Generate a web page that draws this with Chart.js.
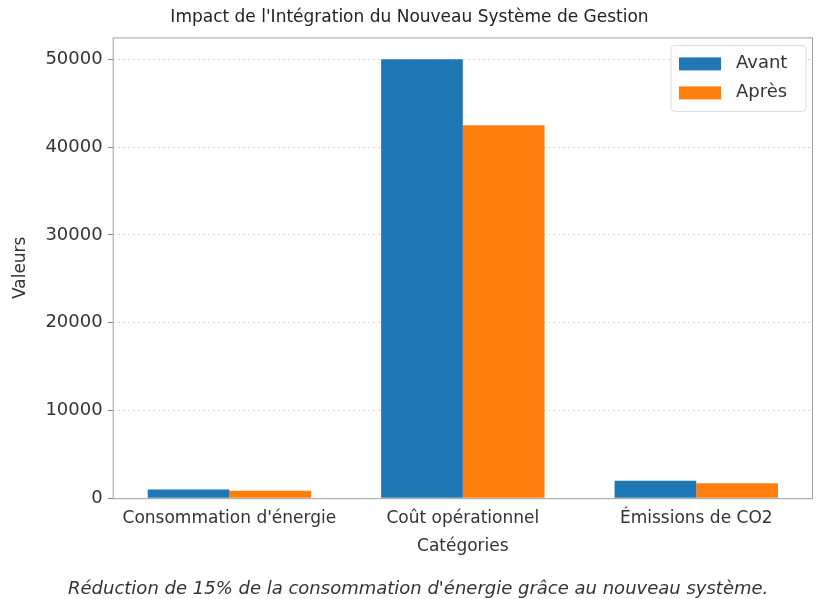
<!DOCTYPE html>
<html>
<head>
<meta charset="utf-8">
<script src="https://cdn.jsdelivr.net/npm/chart.js@4.4.1/dist/chart.umd.min.js"></script>
<style>
  html, body { margin: 0; padding: 0; background: #fff; }
  #wrap { width: 829px; height: 599px; position: relative; }
</style>
</head>
<body>
<div id="wrap"><canvas id="chart" width="829" height="599"></canvas></div>
<script>
const categories = ["Consommation d'énergie", "Coût opérationnel", "Émissions de CO2"];
const avant = [1000, 50000, 2000];
const apres = [850, 42500, 1700];
const yTicks = [0, 10000, 20000, 30000, 40000, 50000];
const caption = "Réduction de 15% de la consommation d'énergie grâce au nouveau système.";

const FONT = "'DejaVu Sans', 'Open Sans', sans-serif";
const BLUE = '#1f77b4';
const ORANGE = '#ff7f0e';

// box around the plot + legend inside top-right, like matplotlib
const framePlugin = {
    id: 'frame',
    afterDraw(chart) {
        const { ctx, chartArea: a } = chart;
        ctx.save();
        ctx.strokeStyle = '#a0a0a0';
        ctx.lineWidth = 1;
        ctx.strokeRect(a.left + 0.5, a.top + 0.5, a.right - a.left - 1, a.bottom - a.top);

        // legend
        const bx = a.right - 142, by = a.top + 8, bw = 135, bh = 66;
        ctx.fillStyle = 'rgba(255,255,255,0.85)';
        ctx.strokeStyle = '#dcdcdc';
        ctx.beginPath();
        ctx.roundRect(bx, by, bw, bh, 4);
        ctx.fill();
        ctx.stroke();
        ctx.font = '18px ' + FONT;
        ctx.textBaseline = 'middle';
        chart.data.datasets.forEach((ds, i) => {
            const y = by + 18 + i * 29;
            ctx.fillStyle = ds.backgroundColor;
            ctx.fillRect(bx + 8, y - 6, 42, 13);
            ctx.fillStyle = '#333';
            ctx.fillText(ds.label, bx + 65, y);
        });

        // caption under the chart
        ctx.font = 'italic 18px ' + FONT;
        ctx.fillStyle = '#333';
        ctx.textBaseline = 'alphabetic';
        ctx.fillText(caption, 68, 594);
        ctx.restore();
    }
};

new Chart(document.getElementById('chart'), {
    type: 'bar',
    data: {
        labels: categories,
        datasets: [
            { label: 'Avant', data: avant, backgroundColor: BLUE },
            { label: 'Après', data: apres, backgroundColor: ORANGE }
        ]
    },
    options: {
        responsive: false,
        animation: false,
        layout: { padding: { left: 6, right: 16, top: 0, bottom: 38 } },
        datasets: { bar: { categoryPercentage: 0.7, barPercentage: 1.0 } },
        plugins: {
            legend: { display: false },
            tooltip: { enabled: false },
            title: {
                display: true,
                text: "Impact de l'Intégration du Nouveau Système de Gestion",
                color: '#222',
                font: { family: FONT, size: 17, weight: 'normal' },
                padding: { top: 7, bottom: 10 }
            }
        },
        scales: {
            x: {
                grid: { display: false, drawTicks: true },
                border: { display: false },
                ticks: { color: '#333', font: { family: FONT, size: 17 }, maxRotation: 0, padding: 2 },
                title: { display: true, text: 'Catégories', color: '#333', font: { family: FONT, size: 17 }, padding: { top: 6 } }
            },
            y: {
                min: 0,
                max: 52500,
                afterBuildTicks(axis) { axis.ticks = yTicks.map(v => ({ value: v })); },
                grid: { color: '#d8d8d8', borderDash: [2, 3], drawTicks: true, tickLength: 5, tickColor: '#888' },
                border: { display: false, dash: [2, 3] },
                ticks: { color: '#333', font: { family: FONT, size: 18 }, padding: 5, callback: v => String(v) },
                title: { display: true, text: 'Valeurs', color: '#333', font: { family: FONT, size: 17 }, padding: { bottom: 10 } }
            }
        }
    },
    plugins: [framePlugin]
});
</script>
</body>
</html>
